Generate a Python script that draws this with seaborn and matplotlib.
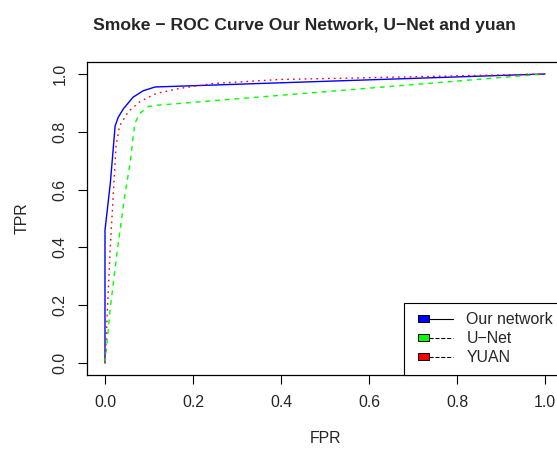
import numpy as np
import pandas as pd
import matplotlib
matplotlib.use("Agg")
import matplotlib.pyplot as plt
import seaborn as sns
from matplotlib.legend_handler import HandlerBase
from matplotlib.patches import Rectangle
from matplotlib.lines import Line2D

# ROC points
fpr_ours = [0.0, 0.0, 0.012, 0.023, 0.030, 0.042, 0.064, 0.087, 0.114, 1.0]
tpr_ours = [0.0, 0.46, 0.62, 0.82, 0.85, 0.88, 0.92, 0.942, 0.955, 1.0]

fpr_unet = [0.0, 0.012, 0.028, 0.045, 0.058, 0.063, 0.068, 0.080, 0.100, 0.120, 1.0]
tpr_unet = [0.0, 0.19, 0.39, 0.58, 0.70, 0.77, 0.83, 0.865, 0.888, 0.892, 1.0]

fpr_yuan = [0.0, 0.012, 0.025, 0.033, 0.053, 0.080, 0.117, 0.170, 0.246, 0.398, 0.625, 1.0]
tpr_yuan = [0.0, 0.40, 0.75, 0.82, 0.87, 0.905, 0.933, 0.950, 0.967, 0.981, 0.988, 1.0]

labels = ["Our network", "U\u2212Net", "YUAN"]
colors = ["#0000FF", "#00FF00", "#FF0000"]
styles = ["-", (0, (3.5, 3.5)), (0, (1.2, 3))]

ticks = [0.0, 0.2, 0.4, 0.6, 0.8, 1.0]

sns.set_style("white")
plt.rcParams["font.family"] = ["Liberation Sans", "DejaVu Sans"]
fs = 11.4

fig = plt.figure(figsize=(5.57, 4.5), dpi=100)
ax = fig.add_axes([0.1569, 0.1676, 0.8532, 0.6937])

curves = [(fpr_ours, tpr_ours), (fpr_unet, tpr_unet), (fpr_yuan, tpr_yuan)]
for (x, y), lab, c, ls in zip(curves, labels, colors, styles):
    sns.lineplot(x=x, y=y, ax=ax, color=c, linestyle=ls, lw=1.0,
                 sort=False, estimator=None, label=lab)

ax.set_xlim(-0.04, 1.04)
ax.set_ylim(-0.04, 1.04)
ax.set_xticks(ticks)
ax.set_yticks(ticks)
ax.set_xticklabels([f"{t:.1f}" for t in ticks], fontsize=fs)
ax.set_yticklabels([f"{t:.1f}" for t in ticks], fontsize=fs, rotation=90, va="center")
ax.tick_params(axis="both", direction="out", length=6.5, width=0.8, color="black",
               pad=8, bottom=True, left=True)
for sp in ax.spines.values():
    sp.set_color("black")
    sp.set_linewidth(0.9)

ax.set_xlabel("FPR", fontsize=fs, labelpad=15)
ax.set_ylabel("TPR", fontsize=fs, labelpad=16)
fig.text(0.546, 0.944, "Smoke \u2212 ROC Curve Our Network, U\u2212Net and yuan",
         ha="center", va="center", fontsize=12.6, fontweight="bold")


# legend entry: filled box followed by a black line sample, like base R
class BoxLineHandler(HandlerBase):
    def create_artists(self, legend, orig_handle, xdescent, ydescent,
                       width, height, fontsize, trans):
        bw, bh = 7.5, 5.5
        x0 = -xdescent + 3.5
        yc = -ydescent + height / 2
        box = Rectangle((x0, yc - bh / 2), bw, bh, facecolor=orig_handle.get_color(),
                        edgecolor="black", lw=0.7, transform=trans)
        ln = Line2D([x0 + bw, -xdescent + width], [yc, yc], color="black",
                    linestyle=orig_handle.get_linestyle(), lw=0.8, transform=trans)
        return [ln, box]


handles = ax.get_lines()[:3]
leg = ax.legend(handles, labels, loc="lower right", bbox_to_anchor=(1, 0),
                borderaxespad=0, fontsize=fs, handlelength=2.5, handletextpad=0.85,
                labelspacing=0.25, borderpad=0.6, fancybox=False, framealpha=1,
                edgecolor="black", handler_map={Line2D: BoxLineHandler()})
leg.get_frame().set_linewidth(0.8)

fig.savefig("out.png", dpi=100)
